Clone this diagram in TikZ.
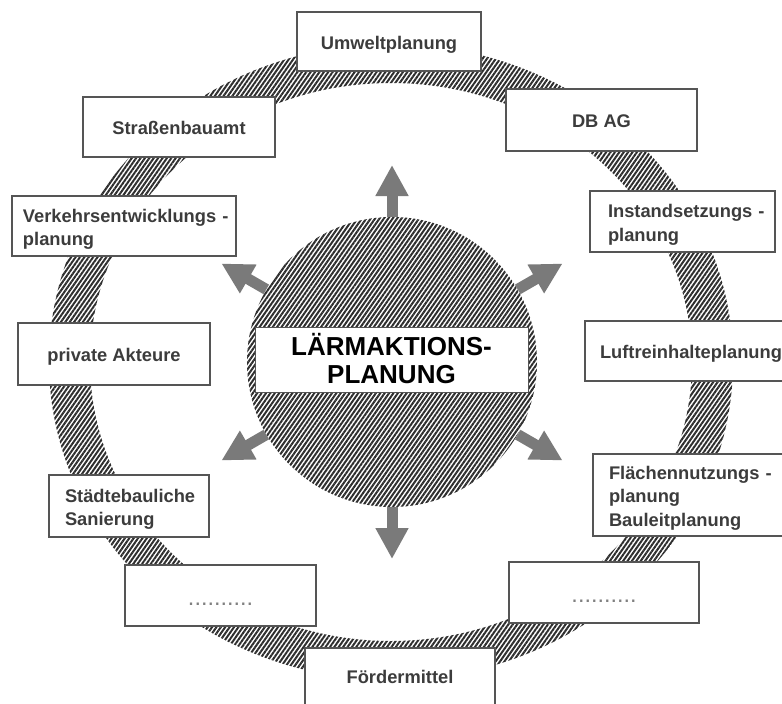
\documentclass[tikz,border=0pt]{standalone}
\usepackage{fontspec}
\setmainfont{Liberation Sans}
\usetikzlibrary{patterns.meta,arrows.meta,calc}
\definecolor{hatch}{HTML}{2E2E2E}
\definecolor{boxline}{HTML}{555555}
\definecolor{txt}{HTML}{3C3C3C}
\definecolor{arr}{HTML}{7A7A7A}
\definecolor{dotc}{HTML}{808080}
\newcommand{\boxfont}{\fontsize{18.3}{23.5}\selectfont\bfseries}
\newcommand{\corefont}{\fontsize{26}{28}\selectfont\bfseries}
\newcommand{\dotfont}{\fontsize{23.4}{26}\selectfont}
\tikzset{
  hatchfill/.style={pattern={Lines[angle=55,distance=3.6pt,line width=2pt]},pattern color=hatch},
  box/.style={draw=boxline,line width=1.4pt,fill=white,inner sep=0pt,text=txt,font=\boxfont,
              text height=15pt,text depth=0pt},
  lbox/.style 2 args={box,align=left,inner xsep=#1,text width=#2},
  dotbox/.style={box,font=\dotfont,text=dotc,text height=19pt},
  fatarrow/.style={draw=arr,line width=11pt,line cap=butt,-{Triangle[width=31pt,length=31pt]}},
}
\begin{document}
\begin{tikzpicture}[x=1pt,y=-1pt]
\useasboundingbox (0,0) rectangle (782,704);
\clip (0,0) rectangle (782,704);
% ring
\fill[hatchfill,even odd rule] (391,362) ellipse [x radius=342,y radius=318]
                               (391,362) ellipse [x radius=301,y radius=279];
% outer boxes
\node[box,minimum width=184,minimum height=59] (umwelt) at (389,41.5) {Umweltplanung};
\node[box,minimum width=192,minimum height=60] (strasse) at (179,127) {Straßenbauamt};
\node[lbox={11pt}{202pt},minimum height=60,text depth=23pt] (verkehr) at (124,226) {\mbox{Verkehrsentwicklungs -}\\planung};
\node[box,minimum width=192,minimum height=62] (privat) at (114,354) {private Akteure};
\node[lbox={16pt}{128pt},minimum height=62,text depth=23pt] (staedte) at (129,506) {Städtebauliche\\Sanierung};
\node[dotbox,minimum width=191,minimum height=61] (dotsl) at (220.5,595.5) {..........};
\node[box,minimum width=190,minimum height=70,text depth=15pt] (foerder) at (400,683) {Fördermittel};
\node[dotbox,minimum width=190,minimum height=61] (dotsr) at (604,592.5) {..........};
\node[lbox={16pt}{178pt},minimum height=82,text depth=47pt] (flaeche) at (698,495) {\mbox{Flächennutzungs -}\\planung\\Bauleitplanung};
\node[lbox={15pt}{185pt},minimum height=60] (luft) at (692.5,351) {\mbox{Luftreinhalteplanung}};
\node[lbox={18pt}{149pt},minimum height=61,text depth=23pt] (instand) at (682.5,221.5) {\mbox{Instandsetzungs -}\\planung};
\node[box,minimum width=191,minimum height=62] (dbag) at (601.5,120) {DB AG};
% core
\node[circle,hatchfill,minimum size=290pt,inner sep=0pt] (core) at (392,362) {};
\foreach \a in {90,30,150,210,330,270}{
  \coordinate (t\a) at ($(core.center)+(\a:197pt)$);
}
\foreach \a in {90,30,150,210,330,270}{
  \draw[fatarrow] (core.\a) -- (t\a);
}
\node[box,draw=boxline,line width=1pt,text=black,font=\corefont,align=center,
      text width=273pt,minimum height=65,text height=19pt,text depth=28pt] (title)
      at (391.5,359.5) {LÄRMAKTIONS-\\PLANUNG};
\end{tikzpicture}
\end{document}
